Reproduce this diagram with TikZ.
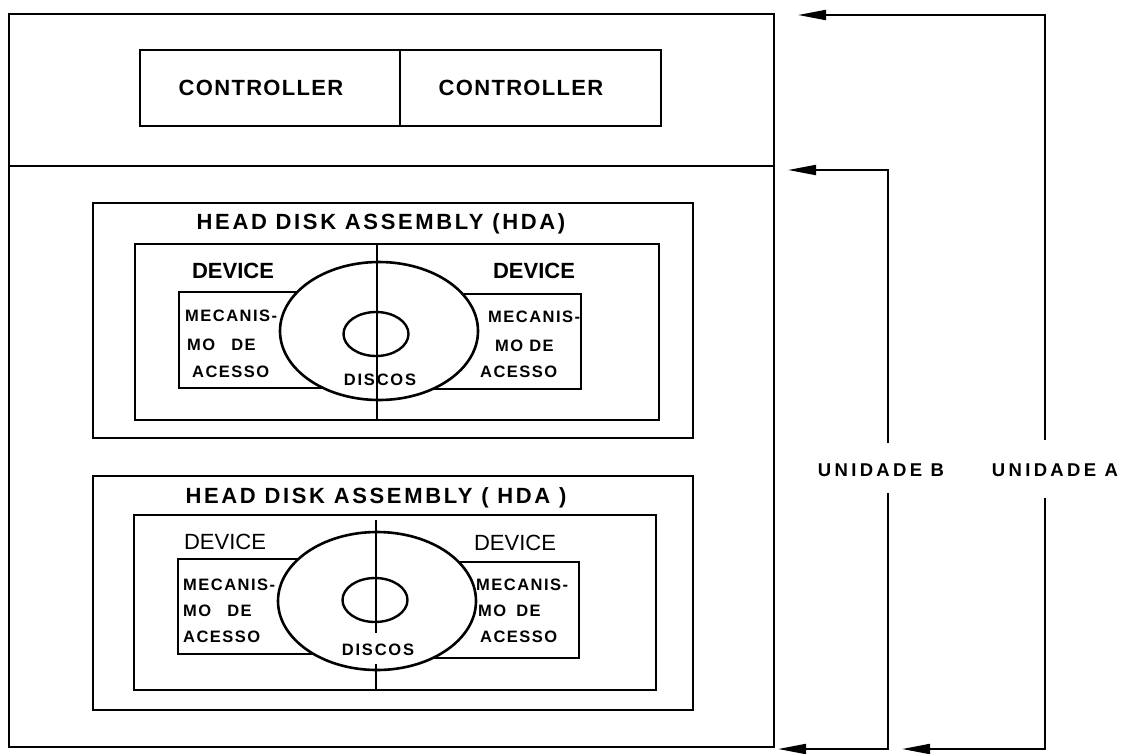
\documentclass[tikz,border=0pt]{standalone}
\usepackage{fontspec}
\setmainfont{Liberation Sans}
\usetikzlibrary{arrows.meta,shapes.geometric}
\begin{document}
\begin{tikzpicture}[x=1pt,y=-1pt,
  frame/.style={draw,line width=2pt},
  innerbox/.style={draw,line width=2.3pt},
  mecbox/.style={draw,line width=2pt},
  disk/.style={draw,ellipse,line width=2.6pt,fill=white,inner sep=0pt,minimum width=198pt,minimum height=138pt},
  hub/.style={draw,ellipse,line width=2.4pt,inner sep=0pt,minimum width=65pt,minimum height=44pt},
  axis/.style={draw,line width=1.2pt},
  ctrl/.style={font=\bfseries\fontsize{22}{24}\selectfont\addfontfeatures{LetterSpace=6},inner sep=0pt},
  hdatitle/.style={font=\bfseries\fontsize{22}{24}\selectfont\addfontfeatures{LetterSpace=12},inner sep=0pt},
  devtext/.style={font=\bfseries\fontsize{22}{24}\selectfont,inner sep=0pt},
  mectext/.style={font=\bfseries\fontsize{16.5}{18}\selectfont\addfontfeatures{LetterSpace=9},inner sep=0pt,anchor=west},
  disctext/.style={font=\bfseries\fontsize{16.5}{18}\selectfont\addfontfeatures{LetterSpace=11},inner sep=0pt},
  unittext/.style={font=\bfseries\fontsize{18.5}{20}\selectfont\addfontfeatures{LetterSpace=18},inner sep=0pt},
  conn/.style={draw,line width=2pt,-{Triangle[length=28pt,width=10pt]}}
]
\useasboundingbox (0,0) rectangle (1121,753);

% outer cabinet
\node[frame,inner sep=0pt,minimum width=765pt,minimum height=733pt,anchor=north west] (cab) at (8,13) {};
\draw[frame] (8,166) -- (773,166);

% controllers
\node[frame,inner sep=0pt,minimum width=260pt,minimum height=76pt,anchor=north west] (ctrlA) at (139,49) {};
\node[frame,inner sep=0pt,minimum width=261pt,minimum height=76pt,anchor=north west] (ctrlB) at (399,49) {};
\node[ctrl] (ctrlAt) at (261,88) {CONTROLLER};
\node[ctrl] (ctrlBt) at (521,88) {CONTROLLER};

% HDA 1
\node[frame,inner sep=0pt,minimum width=600pt,minimum height=235pt,anchor=north west] (hdaA) at (92,202) {};
\node[hdatitle] (hdaAt) at (381,224) {HEAD DISK ASSEMBLY (HDA)};
\node[innerbox,inner sep=0pt,minimum width=524pt,minimum height=176pt,anchor=north west] (devA) at (134,243) {};
\node[devtext] (devAl) at (233,271) {DEVICE};
\node[devtext] (devAr) at (534,271) {DEVICE};
\node[mecbox,inner sep=0pt,minimum width=152pt,minimum height=96pt,anchor=north west] (mecAl) at (178,291) {};
\node[mecbox,inner sep=0pt,minimum width=150pt,minimum height=95pt,anchor=north west] (mecAr) at (430,293) {};
\node[disk] (diskA) at (379,331) {};
\draw[axis] (377,243) -- (377,419);
\node[hub] (hubA) at (376,334) {};
\node[mectext] (mAl1) at (185,316) {MECANIS-};
\node[mectext] (mAl2) at (187,345) {MO\hspace{16pt}DE};
\node[mectext] (mAl3) at (192,372) {ACESSO};
\node[mectext] (mAr1) at (488,317) {MECANIS-};
\node[mectext] (mAr2) at (495,346) {MO DE};
\node[mectext] (mAr3) at (480,372) {ACESSO};
\node[disctext] (discA) at (380,380) {DISCOS};

% HDA 2
\node[frame,inner sep=0pt,minimum width=600pt,minimum height=234pt,anchor=north west] (hdaB) at (92,475) {};
\node[hdatitle] (hdaBt) at (376,498) {HEAD DISK ASSEMBLY ( HDA )};
\node[innerbox,inner sep=0pt,minimum width=522pt,minimum height=175pt,anchor=north west] (devB) at (133,514) {};
\node[devtext,font=\fontsize{22}{24}\selectfont] (devBl) at (225,542) {DEVICE};
\node[devtext,font=\fontsize{22}{24}\selectfont] (devBr) at (515,543) {DEVICE};
\node[mecbox,inner sep=0pt,minimum width=153pt,minimum height=95pt,anchor=north west] (mecBl) at (177,558) {};
\node[mecbox,inner sep=0pt,minimum width=148pt,minimum height=96pt,anchor=north west] (mecBr) at (430,561) {};
\node[disk] (diskB) at (377,601) {};
\node[hub] (hubB) at (375,600) {};
\draw[axis] (376,520) -- (376,633);
\draw[axis] (376,664) -- (376,689);
\node[mectext] (mBl1) at (183,585) {MECANIS-};
\node[mectext] (mBl2) at (183,611) {MO\hspace{16pt}DE};
\node[mectext] (mBl3) at (183,637) {ACESSO};
\node[mectext] (mBr1) at (476,585) {MECANIS-};
\node[mectext] (mBr2) at (478,611) {MO\hspace{10pt}DE};
\node[mectext] (mBr3) at (480,637) {ACESSO};
\node[disctext] (discB) at (378,650) {DISCOS};

% unit brackets
\node[unittext] (unitB) at (881,470) {UNIDADE B};
\node[unittext] (unitA) at (1055,470) {UNIDADE A};
\coordinate (bUp) at (888,443);
\coordinate (bDn) at (888,493);
\coordinate (aUp) at (1045,440);
\coordinate (aDn) at (1045,498);
\coordinate (bTopTip) at (788,170);
\coordinate (bBotTip) at (778,749);
\coordinate (aTopTip) at (798,15);
\coordinate (aBotTip) at (902,749);
\draw[conn] (bUp) |- (bTopTip);
\draw[conn] (bDn) |- (bBotTip);
\draw[conn] (aUp) |- (aTopTip);
\draw[conn] (aDn) |- (aBotTip);
\end{tikzpicture}
\end{document}
